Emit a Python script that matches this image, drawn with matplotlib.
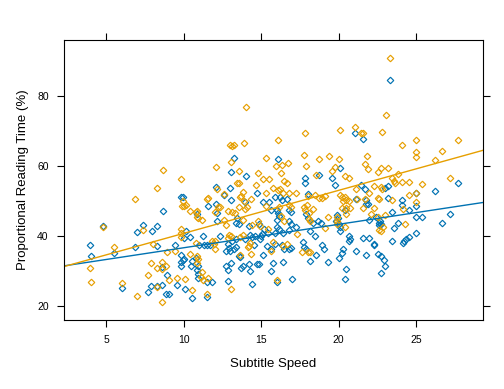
import numpy as np
import matplotlib
matplotlib.use("Agg")
import matplotlib.pyplot as plt

plt.rcParams['font.family'] = ['Liberation Sans', 'DejaVu Sans']

# orange group
orange_x = [14.03, 17.82, 20.08, 16.08, 13.0, 13.13, 13.26, 13.88, 13.05, 12.1,
            13.56, 14.79, 15.3, 15.95, 16.34, 16.72, 16.27, 17.75, 17.88, 18.72,
            19.37, 20.01, 19.75, 19.56, 18.53, 15.11, 15.5, 16.46, 16.66, 23.32,
            23.06, 21.05, 21.43, 21.56, 22.79, 24.98, 27.69, 24.08, 24.98, 24.98,
            26.66, 26.21, 21.82, 21.69, 21.88, 22.72, 22.53, 23.17, 23.82, 23.43,
            20.4, 20.66, 27.17, 8.66, 9.82, 8.27, 6.85, 9.95, 10.01, 10.14,
            9.88, 10.4, 10.79, 10.92, 4.79, 7.37, 9.82, 9.82, 9.82, 10.79,
            5.5, 8.01, 8.92, 9.43, 10.4, 10.85, 3.95, 4.01, 7.88, 8.59,
            8.85, 8.27, 8.59, 7.69, 9.05, 9.56, 10.08, 6.01, 6.98, 8.27,
            10.53, 8.59, 13.43, 13.56, 14.66, 12.14, 15.75, 16.08, 16.21, 13.82,
            12.59, 13.69, 13.63, 14.34, 15.3, 16.4, 16.79, 17.24, 18.01, 18.46,
            18.72, 18.92, 19.11, 11.56, 11.49, 13.88, 16.79, 16.92, 17.94, 17.75,
            12.21, 12.34, 13.56, 14.08, 13.95, 15.3, 16.14, 10.85, 12.01, 12.85,
            13.1, 13.3, 17.82, 18.08, 18.33, 18.08, 18.14, 10.85, 11.17, 12.59,
            13.82, 14.79, 14.92, 16.27, 16.46, 12.72, 14.4, 15.43, 19.3, 19.88,
            19.11, 17.3, 13.82, 13.63, 13.05, 12.92, 12.85, 11.81, 12.01, 11.95,
            14.27, 14.21, 14.14, 15.62, 15.75, 16.4, 16.66, 17.62, 18.01, 18.14,
            12.01, 10.85, 10.92, 11.17, 11.11, 11.56, 11.23, 11.49, 13.05, 16.01,
            13.63, 14.34, 23.56, 23.63, 24.08, 24.53, 25.37, 22.27, 22.72, 22.79,
            21.11, 24.98, 24.53, 21.95, 20.08, 20.21, 20.4, 20.46, 20.66, 20.27,
            21.17, 21.69, 22.53, 22.59, 23.43, 24.98, 21.56, 22.27, 20.21, 20.46,
            20.72, 20.46, 19.88, 19.88, 20.4, 22.08, 22.53, 22.98, 22.85, 22.59,
            22.72, 24.27, 24.14]
orange_y = [76.8, 69.4, 70.2, 67.4, 65.9, 65.6, 65.9, 66.5, 61.1, 59.7,
            58.5, 57.9, 62.2, 59.9, 60.1, 60.7, 57.9, 63.1, 59.9, 61.9,
            62.8, 61.9, 59.7, 58.5, 57.4, 56.1, 56.1, 55.7, 55.1, 90.8,
            74.5, 71.1, 69.4, 69.4, 69.7, 67.4, 67.4, 65.9, 63.9, 62.5,
            64.2, 61.7, 62.8, 60.5, 59.1, 59.4, 58.2, 59.4, 57.7, 56.5,
            57.1, 56.5, 56.5, 58.8, 56.1, 53.7, 50.5, 49.9, 48.5, 48.8,
            48.5, 47.1, 46.8, 45.1, 42.5, 41.7, 41.9, 40.8, 39.7, 37.9,
            36.8, 37.7, 35.4, 35.7, 34.8, 32.2, 30.8, 26.8, 32.2, 32.5,
            31.4, 30.8, 30.5, 28.8, 27.4, 27.9, 27.7, 26.5, 22.8, 25.4,
            24.5, 21.1, 55.1, 55.1, 54.5, 53.4, 53.7, 53.1, 53.4, 52.5,
            51.9, 51.4, 51.1, 50.5, 52.2, 52.2, 52.2, 52.2, 51.4, 51.7,
            50.8, 50.8, 51.4, 50.8, 50.5, 49.9, 48.8, 48.2, 48.8, 48.2,
            48.2, 48.2, 48.2, 48.2, 47.7, 48.5, 48.2, 47.1, 46.8, 47.1,
            46.8, 46.5, 47.4, 46.5, 47.7, 44.8, 44.2, 45.4, 44.5, 44.5,
            44.5, 44.2, 42.8, 45.7, 44.2, 43.1, 43.1, 41.9, 45.4, 45.4,
            42.2, 40.5, 40.2, 39.7, 39.9, 40.2, 39.4, 38.5, 38.5, 37.7,
            37.9, 37.1, 36.8, 35.7, 38.2, 37.1, 37.7, 35.4, 35.4, 35.4,
            36.2, 34.2, 33.4, 29.7, 28.2, 27.9, 27.4, 23.4, 24.8, 27.4,
            34.5, 34.8, 55.7, 55.1, 55.4, 55.4, 54.8, 54.2, 53.9, 53.4,
            53.4, 52.2, 51.7, 52.2, 51.7, 51.1, 51.1, 50.2, 49.9, 49.9,
            50.5, 50.5, 50.8, 50.5, 50.2, 49.7, 47.9, 47.9, 47.9, 47.9,
            47.9, 46.2, 44.2, 43.4, 42.5, 46.2, 45.4, 45.9, 42.5, 41.7,
            41.4, 43.4, 47.7]

# blue group
blue_x = [13.24, 13.05, 14.01, 16.08, 17.82, 18.72, 19.56, 20.08, 23.32, 21.05,
          21.56, 9.82, 9.95, 10.85, 8.66, 4.79, 7.37, 7.0, 7.95, 8.27,
          10.14, 10.4, 10.01, 3.95, 5.5, 6.85, 8.27, 9.43, 9.82, 9.95,
          9.82, 10.01, 10.79, 4.01, 8.59, 8.92, 9.82, 10.46, 10.85, 10.92,
          6.01, 7.88, 8.27, 8.59, 7.69, 8.85, 9.05, 9.56, 10.08, 10.53,
          17.82, 19.75, 12.08, 12.98, 12.59, 14.72, 18.01, 15.88, 16.21, 16.34,
          16.66, 13.05, 13.95, 15.15, 15.5, 11.56, 12.08, 15.62, 16.01, 16.08,
          16.79, 16.92, 12.14, 13.43, 17.88, 18.01, 12.14, 13.37, 13.56, 14.85,
          16.01, 16.14, 16.79, 16.92, 14.21, 15.18, 16.01, 16.14, 17.24, 18.33,
          18.66, 18.85, 19.82, 20.01, 18.14, 18.46, 15.88, 16.4, 16.79, 15.43,
          15.05, 14.98, 14.92, 14.27, 14.4, 14.59, 13.95, 12.34, 13.37, 13.11,
          11.23, 11.3, 10.98, 11.49, 11.69, 12.85, 12.92, 13.24, 13.37, 12.72,
          14.53, 15.37, 15.62, 15.88, 16.34, 16.46, 16.79, 17.69, 17.75, 17.88,
          18.14, 18.53, 18.92, 19.05, 19.3, 20.01, 10.53, 10.92, 10.92, 11.81,
          11.49, 12.85, 11.49, 14.4, 16.01, 16.98, 12.74, 12.85, 13.05, 13.69,
          13.82, 14.27, 14.21, 14.72, 14.85, 13.56, 13.63, 15.11, 15.62, 15.75,
          16.4, 12.98, 16.92, 27.69, 23.19, 23.0, 21.43, 21.69, 26.21, 24.98,
          21.11, 21.75, 23.17, 24.08, 24.08, 24.98, 21.75, 21.88, 20.4, 19.88,
          19.95, 20.08, 20.08, 21.95, 22.4, 22.66, 22.59, 22.72, 22.59, 23.56,
          23.82, 23.43, 24.53, 24.98, 25.37, 27.17, 26.66, 24.98, 24.53, 24.34,
          24.14, 24.21, 23.43, 20.66, 20.72, 20.66, 21.56, 21.95, 22.27, 22.27,
          20.27, 20.21, 21.11, 21.75, 22.53, 22.72, 22.91, 22.98, 20.46, 22.72,
          20.4]
blue_y = [62.2, 58.2, 57.1, 61.9, 56.6, 57.4, 56.6, 59.4, 84.4, 69.4,
          67.7, 51.1, 51.1, 46.2, 47.1, 42.8, 43.1, 41.1, 41.4, 42.8,
          41.4, 39.7, 39.4, 37.4, 35.1, 36.8, 37.1, 37.4, 34.5, 33.1,
          32.5, 33.4, 33.7, 34.2, 31.1, 28.8, 31.4, 31.4, 30.2, 27.9,
          25.1, 25.7, 25.7, 25.9, 23.9, 23.4, 23.4, 25.9, 24.8, 22.2,
          55.1, 54.5, 53.9, 53.7, 51.7, 52.2, 51.9, 51.1, 51.1, 50.2,
          50.5, 50.2, 49.7, 49.7, 49.7, 48.5, 49.1, 47.4, 47.4, 46.5,
          47.4, 46.8, 46.5, 45.1, 46.2, 45.1, 44.2, 43.7, 43.4, 43.4,
          44.5, 45.7, 44.2, 43.4, 42.8, 41.9, 42.5, 41.9, 42.5, 43.7,
          44.2, 43.7, 44.2, 43.4, 41.4, 39.9, 40.8, 40.8, 41.7, 40.8,
          40.5, 39.9, 39.1, 40.2, 39.7, 39.9, 39.1, 39.9, 39.1, 38.5,
          39.9, 37.4, 37.4, 37.4, 37.4, 37.7, 36.5, 36.2, 36.8, 35.7,
          37.4, 37.1, 36.2, 37.7, 37.4, 36.2, 36.2, 38.2, 36.8, 36.2,
          32.8, 34.5, 37.4, 36.2, 32.5, 33.7, 32.8, 31.4, 29.2, 26.8,
          26.8, 27.1, 22.5, 26.2, 26.8, 27.7, 31.4, 30.2, 32.2, 30.8,
          31.4, 29.9, 31.9, 31.9, 31.9, 34.2, 33.9, 34.5, 29.9, 32.2,
          32.5, 35.7, 36.5, 55.1, 54.2, 53.7, 54.5, 53.4, 52.8, 52.2,
          50.5, 50.2, 50.8, 50.2, 48.8, 48.5, 49.1, 49.1, 47.4, 45.9,
          45.1, 42.5, 41.4, 44.5, 45.4, 44.2, 43.7, 43.4, 43.1, 42.2,
          43.7, 46.8, 47.4, 45.4, 45.4, 46.2, 43.7, 40.8, 39.7, 39.1,
          37.9, 38.5, 38.5, 39.9, 39.1, 38.5, 39.4, 39.4, 37.7, 37.4,
          36.2, 35.1, 35.7, 34.5, 34.8, 34.2, 33.1, 31.4, 30.5, 29.4,
          27.7]

# fitted lines (intercept, slope) as drawn
blue_fit = (29.87, 0.67)
orange_fit = (28.39, 1.229)

blue_col = '#0072B2'
orange_col = '#E69F00'

fig = plt.figure(figsize=(5.04, 3.89), dpi=100)
ax = fig.add_axes([0.127, 0.177, 0.831, 0.72])

ax.plot(blue_x, blue_y, 'D', ms=3.3, mfc='none', mec=blue_col, mew=0.85)
ax.plot(orange_x, orange_y, 'D', ms=3.3, mfc='none', mec=orange_col, mew=0.85)

xlim = (2.29, 29.3)
xs = np.array(xlim)
ax.plot(xs, blue_fit[0] + blue_fit[1]*xs, color=blue_col, lw=1)
ax.plot(xs, orange_fit[0] + orange_fit[1]*xs, color=orange_col, lw=1)

ax.set_xlim(*xlim)
ax.set_ylim(15.9, 95.9)
ax.set_xticks([5, 10, 15, 20, 25])
ax.set_yticks([20, 40, 60, 80])
ax.tick_params(direction='out', length=5, width=0.8, labelsize=7.5,
               top=True, right=True, pad=6)
for s in ax.spines.values():
    s.set_linewidth(0.8)

ax.set_xlabel('Subtitle Speed', fontsize=9.5, labelpad=9)
ax.set_ylabel('Proportional Reading Time (%)', fontsize=9.5, labelpad=6)

fig.savefig('out.png', dpi=100)
